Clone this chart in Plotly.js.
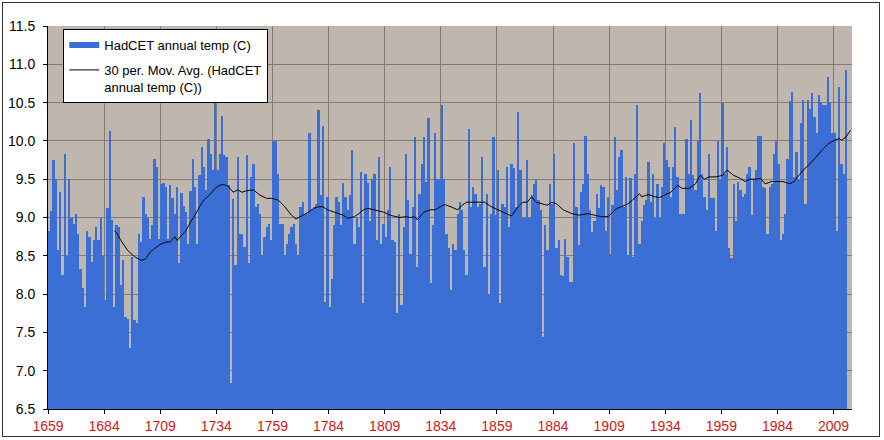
<!DOCTYPE html>
<html>
<head>
<meta charset="utf-8">
<script src="https://cdn.plot.ly/plotly-3.0.1.min.js"></script>
<style>
  html, body { margin: 0; padding: 0; background: #ffffff; }
  #chart { width: 884px; height: 440px; }
  #frame { position: absolute; left: 2px; top: 2px; width: 876px; height: 433px; border: 1px solid #333; pointer-events: none; }
</style>
</head>
<body>
<div id="chart"></div>
<div id="frame"></div>
<script>
// ---- data ----
const firstYear = 1659;

const annualTemp = [
  /*1659*/ 8.83, 9.08, 9.75, 9.50, 8.58, 9.33, 8.25, 9.83, 8.50, 9.50,
  /*1669*/ 9.00, 8.92, 9.04, 8.79, 8.33, 8.08, 7.83, 8.83, 8.75, 8.42,
  /*1679*/ 8.70, 8.88, 8.70, 9.00, 8.50, 7.92, 9.12, 10.13, 8.97, 7.83,
  /*1689*/ 8.90, 8.88, 8.12, 8.44, 7.70, 7.67, 7.29, 8.49, 7.66, 7.62,
  /*1699*/ 8.79, 8.68, 9.27, 9.05, 9.00, 8.72, 8.90, 9.77, 9.66, 8.72,
  /*1709*/ 9.44, 9.45, 9.40, 8.72, 9.42, 9.25, 9.05, 9.40, 8.41, 9.32,
  /*1719*/ 9.15, 9.07, 8.66, 9.35, 9.76, 9.40, 8.66, 9.55, 9.92, 9.66,
  /*1729*/ 9.36, 10.03, 9.83, 9.62, 10.49, 9.62, 9.83, 10.32, 9.81, 9.79,
  /*1739*/ 9.42, 6.84, 9.24, 8.38, 9.79, 8.79, 8.79, 8.62, 9.81, 8.40,
  /*1749*/ 9.53, 9.70, 9.14, 9.18, 9.05, 8.51, 8.75, 8.88, 8.92, 8.70,
  /*1759*/ 10.00, 10.00, 9.57, 8.92, 8.92, 8.51, 8.66, 8.79, 8.88, 8.92,
  /*1769*/ 8.66, 8.51, 9.14, 9.20, 9.05, 9.05, 10.10, 9.10, 9.14, 9.18,
  /*1779*/ 10.40, 9.30, 10.19, 7.90, 9.27, 7.83, 8.20, 8.90, 9.27, 9.20,
  /*1789*/ 8.90, 9.45, 9.27, 9.10, 9.30, 9.88, 8.66, 9.00, 8.88, 9.60,
  /*1799*/ 7.88, 9.57, 9.45, 8.95, 9.50, 9.57, 8.70, 9.79, 8.66, 8.92,
  /*1809*/ 8.75, 9.10, 9.66, 8.70, 8.68, 7.75, 9.05, 7.86, 8.88, 9.83,
  /*1819*/ 9.23, 8.53, 9.14, 10.05, 8.36, 9.31, 9.70, 10.05, 9.47, 10.30,
  /*1829*/ 8.14, 8.90, 10.10, 9.50, 9.50, 10.47, 9.50, 8.79, 8.60, 8.05,
  /*1839*/ 8.66, 8.57, 9.05, 9.20, 9.10, 8.57, 8.25, 10.16, 9.14, 9.40,
  /*1849*/ 9.31, 9.14, 9.18, 9.79, 8.36, 9.31, 8.00, 9.05, 10.05, 9.03,
  /*1859*/ 9.62, 7.88, 9.18, 9.14, 9.66, 8.88, 9.70, 9.64, 9.14, 10.38,
  /*1869*/ 9.62, 9.00, 9.00, 9.75, 9.00, 9.29, 9.44, 9.49, 9.23, 9.10,
  /*1879*/ 7.44, 8.90, 8.57, 9.44, 9.18, 9.83, 8.60, 8.70, 8.25, 8.23,
  /*1889*/ 8.72, 8.49, 8.16, 8.16, 9.97, 9.14, 8.64, 9.33, 9.44, 10.07,
  /*1899*/ 9.57, 9.10, 8.81, 8.96, 9.31, 9.12, 9.42, 9.40, 8.83, 9.27,
  /*1909*/ 8.53, 9.16, 10.05, 9.36, 9.79, 9.88, 9.14, 9.53, 8.51, 9.51,
  /*1919*/ 8.49, 9.57, 10.47, 8.66, 8.96, 9.16, 9.23, 9.73, 9.20, 9.57,
  /*1929*/ 9.00, 9.44, 9.00, 9.40, 9.97, 9.75, 9.66, 9.27, 9.66, 10.18,
  /*1939*/ 9.53, 9.05, 9.05, 9.05, 10.03, 9.57, 10.27, 9.55, 9.36, 10.00,
  /*1949*/ 10.63, 9.57, 9.27, 9.10, 9.83, 9.26, 9.26, 8.83, 10.00, 9.50,
  /*1959*/ 10.49, 9.57, 9.92, 8.60, 8.47, 9.44, 8.96, 9.47, 9.36, 9.27,
  /*1969*/ 9.31, 9.57, 9.66, 9.03, 9.49, 9.62, 10.07, 10.07, 9.40, 9.38,
  /*1979*/ 8.79, 9.40, 9.44, 9.83, 10.00, 9.70, 8.70, 8.79, 9.05, 9.77,
  /*1989*/ 10.52, 10.64, 9.53, 9.86, 9.50, 10.23, 10.53, 9.18, 10.53, 10.42,
  /*1999*/ 10.62, 10.31, 10.10, 10.60, 10.51, 10.47, 10.47, 10.83, 10.49, 10.10,
  /*2009*/ 10.10, 8.83, 10.70, 9.70, 9.57, 10.92
];

// 30-period moving average
const maYears = [
  1688, 1689, 1691, 1694, 1697, 1700, 1702, 1704, 1708, 1711, 1713, 1715, 1716, 1718, 1720,
  1722, 1724, 1726, 1728, 1731, 1733, 1735, 1737, 1739, 1741, 1743, 1745, 1747, 1750, 1753,
  1756, 1758, 1761, 1764, 1767, 1769, 1771, 1772, 1774, 1777, 1779, 1781, 1783, 1786, 1788,
  1790, 1792, 1795, 1797, 1799, 1801, 1804, 1808, 1811, 1813, 1815, 1818, 1820, 1822, 1823,
  1826, 1829, 1831, 1833, 1835, 1838, 1841, 1843, 1845, 1848, 1850, 1853, 1856, 1859, 1862,
  1865, 1868, 1870, 1872, 1874, 1876, 1879, 1881, 1883, 1885, 1888, 1890, 1892, 1895, 1899,
  1902, 1905, 1908, 1910, 1912, 1914, 1917, 1919, 1922, 1923, 1926, 1929, 1931, 1933, 1936,
  1939, 1941, 1944, 1947, 1949, 1951, 1953, 1956, 1959, 1961, 1964, 1967, 1969, 1971, 1974,
  1976, 1978, 1981, 1983, 1986, 1989, 1991, 1993, 1995, 1998, 2000, 2002, 2004, 2006, 2009,
  2011, 2012, 2014, 2016
];
const maValues = [
  8.83, 8.80, 8.70, 8.57, 8.49, 8.44, 8.46, 8.55, 8.64, 8.68, 8.68, 8.75, 8.70, 8.77, 8.83,
  8.94, 9.03, 9.14, 9.23, 9.31, 9.38, 9.42, 9.43, 9.40, 9.33, 9.36, 9.33, 9.35, 9.36, 9.29,
  9.25, 9.25, 9.23, 9.14, 9.03, 8.98, 9.02, 9.03, 9.06, 9.12, 9.14, 9.14, 9.10, 9.07, 9.05,
  9.03, 8.99, 9.01, 9.05, 9.10, 9.12, 9.10, 9.07, 9.03, 9.01, 9.00, 9.01, 9.00, 9.01, 8.97,
  9.07, 9.10, 9.10, 9.14, 9.17, 9.14, 9.10, 9.16, 9.20, 9.20, 9.20, 9.20, 9.14, 9.10, 9.07,
  9.02, 9.14, 9.20, 9.20, 9.27, 9.20, 9.18, 9.16, 9.20, 9.18, 9.10, 9.07, 9.05, 9.03, 9.05,
  9.03, 9.01, 9.01, 9.07, 9.12, 9.14, 9.18, 9.23, 9.31, 9.27, 9.30, 9.27, 9.26, 9.29, 9.33,
  9.42, 9.38, 9.38, 9.44, 9.55, 9.50, 9.53, 9.53, 9.55, 9.62, 9.55, 9.51, 9.47, 9.50, 9.50,
  9.51, 9.44, 9.47, 9.47, 9.47, 9.44, 9.47, 9.55, 9.62, 9.70, 9.77, 9.83, 9.90, 9.96, 10.01,
  10.03, 10.01, 10.05, 10.14
];

const tickLabels = ['1659', '1684', '1709', '1734', '1759', '1784', '1809', '1834',
                    '1859', '1884', '1909', '1934', '1959', '1984', '2009'];

const barName = 'HadCET annual temp (C)';
const maName = '30 per. Mov. Avg. (HadCET<br>annual temp (C))';

// ---- chart ----
const FONT = 'Liberation Sans, Arial, Helvetica, sans-serif';
const BLUE = '#3b6fd6';
const years = annualTemp.map((_, i) => firstYear + i);

const traces = [
  {
    type: 'bar', x: years, y: annualTemp, name: barName,
    marker: { color: BLUE, line: { width: 0 } },
    showlegend: false, hoverinfo: 'x+y'
  },
  {
    // legend swatch for the bar series (drawn as a wide flat band like the original)
    type: 'scatter', mode: 'lines', x: [null], y: [null], name: barName,
    line: { color: BLUE, width: 6 }, legendgroup: 'a', hoverinfo: 'skip'
  },
  {
    type: 'scatter', mode: 'lines', x: maYears, y: maValues, name: maName,
    line: { color: '#000000', width: 1 }, legendgroup: 'b', hoverinfo: 'x+y'
  }
];

const layout = {
  width: 884, height: 440,
  margin: { l: 48, r: 32, t: 26, b: 31, pad: 0 },
  paper_bgcolor: '#ffffff',
  plot_bgcolor: '#bfb6ad',
  bargap: 0,
  showlegend: true,
  font: { family: FONT, size: 14, color: '#000' },
  legend: {
    x: 0.019, y: 0.992, xanchor: 'left', yanchor: 'top',
    bgcolor: '#ffffff', bordercolor: '#000000', borderwidth: 1,
    font: { family: FONT, size: 13, color: '#000' },
    valign: 'top', traceorder: 'grouped', tracegroupgap: 5
  },
  xaxis: {
    range: [1658.5, 2016.7],
    tickmode: 'array',
    tickvals: tickLabels.map(t => Number(t) - 0.5),
    ticktext: tickLabels,
    showgrid: true, gridcolor: '#857a70', gridwidth: 1,
    showline: true, linecolor: '#000', linewidth: 1,
    ticks: 'outside', ticklen: 4, tickcolor: '#000',
    tickfont: { family: FONT, size: 14, color: '#d01818' },
    zeroline: false, fixedrange: true
  },
  yaxis: {
    range: [6.5, 11.5], tick0: 6.5, dtick: 0.5, tickformat: '.1f',
    showgrid: true, gridcolor: '#857a70', gridwidth: 1,
    showline: true, linecolor: '#000', linewidth: 1,
    ticks: 'outside', ticklen: 4, tickcolor: '#000',
    ticklabelstandoff: 5,
    tickfont: { family: FONT, size: 14, color: '#000' },
    zeroline: false, fixedrange: true
  }
};

Plotly.newPlot('chart', traces, layout, { displayModeBar: false, staticPlot: true });
</script>
</body>
</html>
